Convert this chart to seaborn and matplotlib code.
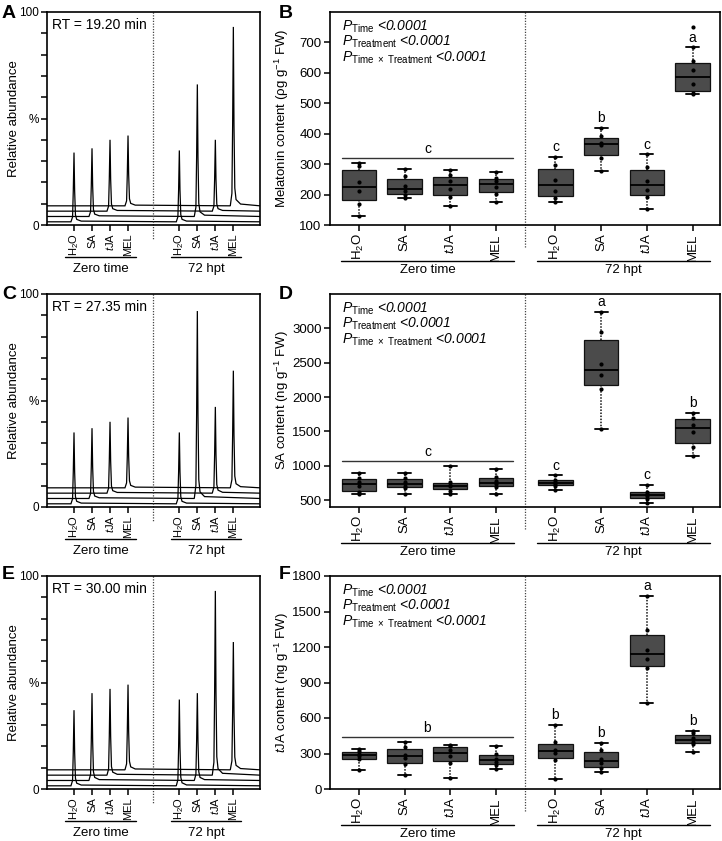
import numpy as np
import pandas as pd
import matplotlib
matplotlib.use("Agg")
import matplotlib.pyplot as plt
import seaborn as sns
from matplotlib.transforms import blended_transform_factory

# ---------------- data ----------------
treatments = ["H2O", "SA", "tJA", "MEL"]
tick_labels = [r"H$_2$O", "SA", r"$\mathit{t}$JA", "MEL"]
group_names = ["Zero time", "72 hpt"]

# chromatogram peak tops (% relative abundance), order H2O, SA, tJA, MEL
chrom_A_zero = [34, 36, 40, 42]
chrom_A_72 = [35, 66, 40, 93]
chrom_C_zero = [35, 37, 40, 42]
chrom_C_72 = [35, 92, 47, 64]
chrom_E_zero = [37, 45, 47, 49]
chrom_E_72 = [42, 45, 93, 69]
chrom_baselines = [1.5, 4.0, 6.5, 9.0]
rt_labels = ["RT = 19.20 min", "RT = 27.35 min", "RT = 30.00 min"]

# melatonin content (pg g-1 FW), per treatment H2O, SA, tJA, MEL
mel_zero = [[305, 294, 240, 213, 170, 130],
            [284, 260, 227, 211, 197, 189],
            [280, 263, 243, 219, 192, 161],
            [273, 255, 243, 224, 202, 175]]
mel_72 = [[324, 297, 249, 213, 190, 177],
          [419, 394, 368, 364, 319, 276],
          [332, 292, 246, 214, 192, 151],
          [684, 640, 610, 563, 535, 530]]
mel_72_outliers = [[], [], [], [751]]
mel_letter_zero = "c"
mel_letters_72 = ["c", "b", "c", "a"]

# SA content (ng g-1 FW)
sa_zero = [[890, 820, 760, 700, 620, 590],
           [900, 815, 760, 710, 680, 590],
           [1000, 760, 720, 700, 640, 595],
           [950, 840, 780, 730, 690, 595]]
sa_72 = [[860, 800, 760, 730, 710, 650],
         [3240, 2950, 2475, 2320, 2120, 1540],
         [720, 620, 590, 560, 520, 465],
         [1770, 1700, 1600, 1485, 1280, 1145]]
sa_72_outliers = [[], [], [], []]
sa_letter_zero = "c"
sa_letters_72 = ["c", "a", "c", "b"]

# tJA content (ng g-1 FW)
tja_zero = [[340, 320, 300, 275, 250, 160],
            [400, 355, 290, 260, 210, 120],
            [375, 360, 330, 280, 220, 95],
            [363, 300, 255, 230, 200, 165]]
tja_72 = [[540, 395, 330, 305, 245, 85],
          [390, 330, 250, 220, 180, 140],
          [1635, 1340, 1175, 1100, 1020, 725],
          [490, 470, 430, 400, 380, 315]]
tja_72_outliers = [[], [], [], []]
tja_letter_zero = "b"
tja_letters_72 = ["b", "b", "a", "b"]

# ---------------- style ----------------
sns.set_style("ticks")
plt.rcParams["font.family"] = ["Liberation Sans", "DejaVu Sans"]
plt.rcParams["mathtext.fontset"] = "custom"
plt.rcParams["mathtext.rm"] = "Liberation Sans"
plt.rcParams["mathtext.it"] = "Liberation Sans:italic"
plt.rcParams["mathtext.bf"] = "Liberation Sans:bold"
plt.rcParams["axes.linewidth"] = 1.2
plt.rcParams["axes.edgecolor"] = "black"
plt.rcParams["axes.labelcolor"] = "black"
plt.rcParams["text.color"] = "black"
plt.rcParams["xtick.color"] = "black"
plt.rcParams["ytick.color"] = "black"
plt.rcParams["xtick.major.width"] = 1.1
plt.rcParams["ytick.major.width"] = 1.1
plt.rcParams["xtick.major.size"] = 4
plt.rcParams["ytick.major.size"] = 4

W, H = 722, 841
fig = plt.figure(figsize=(W / 100, H / 100), dpi=100)


def rect(l, t, r, b):
    return [l / W, 1 - b / H, (r - l) / W, (b - t) / H]


row_tops = [12, 294, 576]
AX_H = 213

# ---------------- chromatogram panels ----------------
chrom_pos_zero = [0, 1, 2, 3]
chrom_pos_72 = [5.85, 6.85, 7.85, 8.85]
chrom_sep = 4.39
chrom_xlim = (-1.5, 10.33)
peak_dx = [-0.17, -0.08, -0.04, 0.0, 0.035, 0.08, 0.15, 0.4]
peak_f = [0.0, 0.07, 0.45, 1.0, 0.45, 0.1, 0.035, 0.01]


def chrom_panel(ax, zero, h72, rt):
    for k in range(4):
        base = chrom_baselines[k]
        xs = [chrom_xlim[0]]
        ys = [base]
        for p, top in ((chrom_pos_zero[k], zero[k]), (chrom_pos_72[k], h72[k])):
            for dx, f in zip(peak_dx, peak_f):
                xs.append(p + dx)
                ys.append(base + f * (top - base))
        xs.append(chrom_xlim[1])
        ys.append(base)
        ax.plot(xs, ys, color="black", lw=0.9, solid_joinstyle="miter")
    ax.set_xlim(*chrom_xlim)
    ax.set_ylim(0, 100)
    ax.set_yticks(np.arange(0, 101, 10))
    ax.set_yticklabels(["0", "", "", "", "", "%", "", "", "", "", "100"], fontsize=8.5)
    ax.tick_params(axis="y", pad=2)
    ax.set_xticks(chrom_pos_zero + chrom_pos_72)
    ax.set_xticklabels(tick_labels * 2, rotation=90, fontsize=8)
    ax.tick_params(axis="x", pad=2)
    ax.set_ylabel("Relative abundance", fontsize=9.5)
    ax.yaxis.set_label_coords(-0.127, 0.5)
    for s in ax.spines.values():
        s.set_visible(True)
    tr = blended_transform_factory(ax.transData, ax.transAxes)
    ax.plot([chrom_sep, chrom_sep], [1, -0.07], transform=tr, ls=(0, (1, 1.2)),
            color="#444444", lw=0.9, clip_on=False)
    for (x0, x1), name in zip(((-0.5, 3.45), (5.4, 9.3)), group_names):
        ax.plot([x0, x1], [-0.152, -0.152], transform=tr, color="black", lw=1.0,
                clip_on=False)
        ax.text((x0 + x1) / 2, -0.205, name, transform=tr, ha="center", va="center",
                fontsize=9.5)
    ax.text(0.025, 0.94, rt, transform=ax.transAxes, ha="left", va="center",
            fontsize=10)


# ---------------- box panels ----------------
box_pos_zero = [0, 1, 2, 3]
box_pos_72 = [4.3, 5.3, 6.3, 7.3]
box_sep = 3.63
box_xlim = (-0.63, 7.9)
box_fill = "#4b4b4b"


def box_panel(ax, zero, h72, out72, ylim, yticks, ylabel, letter_zero, letters_72):
    rows, pts = [], []
    for i in range(4):
        for v in zero[i]:
            rows.append((box_pos_zero[i], v))
        for v in h72[i]:
            rows.append((box_pos_72[i], v))
        for v in out72[i]:
            pts.append((box_pos_72[i], v))
    df = pd.DataFrame(rows, columns=["pos", "value"])
    dfp = pd.DataFrame(rows + pts, columns=["pos", "value"])
    sns.boxplot(data=df, x="pos", y="value", native_scale=True, width=0.75,
                whis=(0, 100), showfliers=False, color=box_fill, saturation=1,
                linecolor="#111111", linewidth=0.9,
                whiskerprops=dict(linestyle=(0, (1, 1)), linewidth=1.1),
                capprops=dict(linewidth=1.4),
                medianprops=dict(linewidth=1.3, color="black"), ax=ax)
    # narrower caps
    for c in ax.containers:
        caps = getattr(c, "caps", None)
        if caps is None:
            continue
        for cap in caps:
            xd = np.asarray(cap.get_xdata(), dtype=float)
            m = xd.mean()
            cap.set_xdata([m - 0.14, m + 0.14])
    sns.stripplot(data=dfp, x="pos", y="value", native_scale=True, jitter=False,
                  color="black", size=3, ax=ax, zorder=5)
    ax.set_xlim(*box_xlim)
    ax.set_ylim(*ylim)
    ax.set_yticks(yticks)
    ax.set_yticklabels([str(t) for t in yticks], fontsize=9.5)
    ax.tick_params(axis="y", pad=2)
    ax.set_xticks(box_pos_zero + box_pos_72)
    ax.set_xticklabels(tick_labels * 2, rotation=90, fontsize=9.5)
    ax.tick_params(axis="x", pad=2)
    ax.set_xlabel("")
    ax.set_ylabel(ylabel, fontsize=9.5)
    ax.yaxis.set_label_coords(-0.1, 0.5)
    for s in ax.spines.values():
        s.set_visible(True)
    tr = blended_transform_factory(ax.transData, ax.transAxes)
    ax.plot([box_sep, box_sep], [1, -0.108], transform=tr, ls=(0, (1, 1.2)),
            color="#444444", lw=0.9, clip_on=False)
    for (x0, x1), name in zip(((-0.38, 3.39), (3.9, 7.68)), group_names):
        ax.plot([x0, x1], [-0.169, -0.169], transform=tr, color="black", lw=1.0,
                clip_on=False)
        ax.text((x0 + x1) / 2, -0.212, name, transform=tr, ha="center", va="center",
                fontsize=9.5)
    # significance letters
    units_per_px = (ylim[1] - ylim[0]) / AX_H
    for i in range(4):
        ymax = max(h72[i])
        ax.annotate(letters_72[i], (box_pos_72[i], ymax), xytext=(0, 2),
                    textcoords="offset points", ha="center", va="bottom", fontsize=10)
    zmax = max(max(v) for v in zero)
    yline = zmax + 5 * units_per_px
    ax.plot([-0.375, 3.375], [yline, yline], color="#333333", lw=1.0)
    ax.annotate(letter_zero, (1.5, yline), xytext=(0, 1.5), textcoords="offset points",
                ha="center", va="bottom", fontsize=10)
    ptxt = [r"$\mathit{P}_{\mathrm{Time}}$ <0.0001",
            r"$\mathit{P}_{\mathrm{Treatment}}$ <0.0001",
            r"$\mathit{P}_{\mathrm{Time\ \times\ Treatment}}$ <0.0001"]
    for j, t in enumerate(ptxt):
        ax.text(0.03, 0.915 - j * 0.073, t, transform=ax.transAxes, ha="left",
                va="baseline", fontsize=10, fontstyle="italic")


chrom_data = [(chrom_A_zero, chrom_A_72), (chrom_C_zero, chrom_C_72),
              (chrom_E_zero, chrom_E_72)]
box_data = [
    (mel_zero, mel_72, mel_72_outliers, (100, 800), [100, 200, 300, 400, 500, 600, 700],
     "Melatonin content (ρg g$^{-1}$ FW)", mel_letter_zero, mel_letters_72),
    (sa_zero, sa_72, sa_72_outliers, (400, 3500), [500, 1000, 1500, 2000, 2500, 3000],
     "SA content (ng g$^{-1}$ FW)", sa_letter_zero, sa_letters_72),
    (tja_zero, tja_72, tja_72_outliers, (0, 1800), [0, 300, 600, 900, 1200, 1500, 1800],
     r"$\mathit{t}$JA content (ng g$^{-1}$ FW)", tja_letter_zero, tja_letters_72),
]
letters = [("A", "B"), ("C", "D"), ("E", "F")]
letter_tops = [5, 286, 566]

for r in range(3):
    top = row_tops[r]
    axc = fig.add_axes(rect(47, top, 260, top + AX_H))
    chrom_panel(axc, chrom_data[r][0], chrom_data[r][1], rt_labels[r])
    axb = fig.add_axes(rect(330, top, 720, top + AX_H))
    box_panel(axb, *box_data[r])
    fig.text(2 / W, 1 - letter_tops[r] / H, letters[r][0], fontsize=14,
             fontweight="bold", ha="left", va="top")
    fig.text(279 / W, 1 - letter_tops[r] / H, letters[r][1], fontsize=14,
             fontweight="bold", ha="left", va="top")

fig.savefig("out.png", dpi=100)
